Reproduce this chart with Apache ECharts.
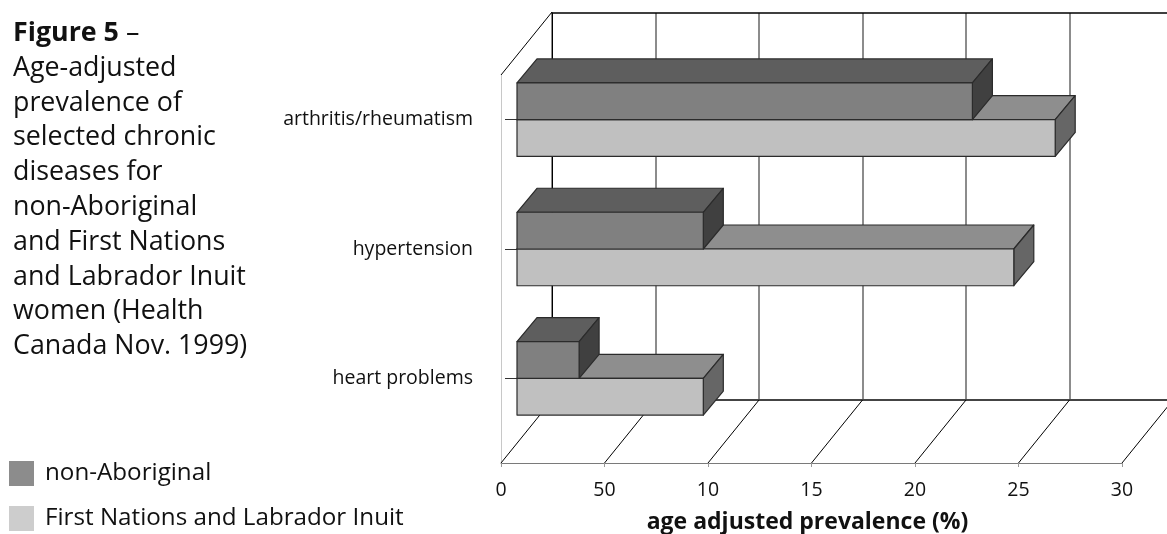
<!DOCTYPE html>
<html>
<head>
<meta charset="utf-8">
<script src="https://cdn.jsdelivr.net/npm/echarts@6/dist/echarts.min.js"></script>
<style>
html, body { margin: 0; padding: 0; background: #fff; }
#main { width: 1167px; height: 534px; }
</style>
</head>
<body>
<div id="main"></div>
<script>
// ---- data ----
const categories = ['heart problems', 'hypertension', 'arthritis/rheumatism'];
const nonAboriginal = [3, 9, 22];
const firstNations = [9, 24, 26];
const seriesNames = ['non-Aboriginal', 'First Nations and Labrador Inuit'];
const tickValues = [0, 5, 10, 15, 20, 25, 30];
const tickLabels = ['0', '50', '10', '15', '20', '25', '30']; // the source prints "50" for 5
const axisTitle = 'age adjusted prevalence (%)';
const captionLines = [
  '{b|Figure 5} –',
  'Age-adjusted',
  'prevalence of',
  'selected chronic',
  'diseases for',
  'non-Aboriginal',
  'and First Nations',
  'and Labrador Inuit',
  'women (Health',
  'Canada Nov. 1999)'
];

// ---- fake 3d look ----
const WALL_DEPTH = [51, -63];  // front plane -> back wall
const BAR_DEPTH = [20, -24];   // bar front face -> bar back face
const faces = [
  { front: '#808080', top: '#5e5e5e', side: '#404040', legend: '#8c8c8c' },
  { front: '#c0c0c0', top: '#8e8e8e', side: '#666666', legend: '#cdcdcd' }
];
const FONT = '"Open Sans", "Noto Sans", sans-serif';

function barRenderer(s) {
  return function (params, api) {
    const cat = api.value(0);
    const val = api.value(1);
    const band = api.size([0, 1])[1];
    const h = band * 0.284;
    const p0 = api.coord([0, cat]);
    const p1 = api.coord([val, cat]);
    const y0 = s === 0 ? p0[1] - h : p0[1];
    const y1 = y0 + h;
    const xl = p0[0], xr = p1[0];
    const dx = BAR_DEPTH[0], dy = BAR_DEPTH[1];
    const c = faces[s];
    const edge = { stroke: '#2b2b2b', lineWidth: 1.2, lineJoin: 'round' };
    return {
      type: 'group',
      children: [
        { type: 'polygon', shape: { points: [[xl, y0], [xr, y0], [xr + dx, y0 + dy], [xl + dx, y0 + dy]] },
          style: Object.assign({ fill: c.top }, edge) },
        { type: 'polygon', shape: { points: [[xr, y0], [xr, y1], [xr + dx, y1 + dy], [xr + dx, y0 + dy]] },
          style: Object.assign({ fill: c.side }, edge) },
        { type: 'rect', shape: { x: xl, y: y0, width: xr - xl, height: h },
          style: Object.assign({ fill: c.front }, edge) }
      ]
    };
  };
}

function frameRenderer(params, api) {
  const p = api.coord([api.value(0), api.value(1)]);
  return {
    type: 'line',
    shape: { x1: p[0], y1: p[1], x2: p[0] + WALL_DEPTH[0], y2: p[1] + WALL_DEPTH[1] },
    style: { stroke: '#000', lineWidth: 1 }
  };
}

// floor diagonals at each tick + the top edge of the left wall
const frameData = tickValues.map(v => [v, 0]).concat([[0, 1]]);

let option = {
  backgroundColor: '#fff',
  animation: false,
  textStyle: { fontFamily: FONT },
  title: {
    left: 8,
    top: 11,
    text: captionLines.join('\n'),
    textStyle: {
      fontFamily: FONT, fontSize: 26.8, lineHeight: 34.8, fontWeight: 'normal', color: '#111',
      rich: { b: { fontFamily: FONT, fontSize: 26.8, lineHeight: 34.8, fontWeight: 'bold', color: '#111' } }
    }
  },
  legend: {
    orient: 'vertical',
    left: 9,
    top: 461,
    padding: 0,
    icon: 'rect',
    itemWidth: 25,
    itemHeight: 25,
    itemGap: 20,
    selectedMode: false,
    data: seriesNames,
    textStyle: { fontFamily: FONT, fontSize: 24.2, color: '#111', padding: [0, 0, 0, 6] }
  },
  grid: [
    // plane through the bars
    { left: 517, top: 55, width: 621, height: 388, outerBoundsMode: 'none' },
    // front plane (axis labels)
    { left: 501, top: 75, width: 621, height: 388, outerBoundsMode: 'none' },
    // back wall
    { left: 552, top: 13, width: 621, height: 387, outerBoundsMode: 'none' }
  ],
  xAxis: [
    { gridIndex: 0, type: 'value', min: 0, max: 30, interval: 5, show: false },
    {
      gridIndex: 1, type: 'value', min: 0, max: 30, interval: 5,
      axisLine: { show: true, lineStyle: { color: '#7a7a7a', width: 1 } },
      axisTick: { show: true, length: 4, lineStyle: { color: '#999' } },
      splitLine: { show: false },
      axisLabel: {
        margin: 17, fontSize: 19.5, color: '#111', fontFamily: FONT,
        formatter: v => tickLabels[tickValues.indexOf(v)]
      },
      name: axisTitle,
      nameLocation: 'middle',
      nameGap: 48,
      nameTextStyle: { fontFamily: FONT, fontSize: 23, fontWeight: 'bold', color: '#111', padding: [0, 8, 0, 0] }
    },
    {
      gridIndex: 2, type: 'value', min: 0, max: 30, interval: 5,
      axisLine: { show: true, lineStyle: { color: '#444', width: 2 } },
      axisTick: { show: false }, axisLabel: { show: false },
      splitLine: { show: true, lineStyle: { color: '#8c8c8c', width: 2 } }
    },
    {
      gridIndex: 2, type: 'value', min: 0, max: 30, interval: 5, position: 'top',
      axisLine: { show: true, lineStyle: { color: '#000', width: 1.5 } },
      axisTick: { show: false }, axisLabel: { show: false }, splitLine: { show: false }
    }
  ],
  yAxis: [
    {
      gridIndex: 0, type: 'category', data: categories, offset: 17,
      axisLine: { show: false },
      axisTick: { show: true, length: 12, alignWithLabel: true, lineStyle: { color: '#333' } },
      axisLabel: { margin: 27, fontSize: 19.5, color: '#111', fontFamily: FONT }
    },
    {
      gridIndex: 1, type: 'value', min: 0, max: 1,
      axisLine: { show: true, lineStyle: { color: '#c8c8c8' } },
      axisTick: { show: false }, axisLabel: { show: false }, splitLine: { show: false }
    },
    {
      gridIndex: 2, type: 'value', min: 0, max: 1,
      axisLine: { show: true, lineStyle: { color: '#000', width: 1 } },
      axisTick: { show: false }, axisLabel: { show: false }, splitLine: { show: false }
    }
  ],
  series: [
    {
      name: 'frame', type: 'custom', xAxisIndex: 1, yAxisIndex: 1,
      renderItem: frameRenderer, data: frameData, clip: false, silent: true, z: 1
    },
    {
      name: seriesNames[1], type: 'custom', xAxisIndex: 0, yAxisIndex: 0,
      itemStyle: { color: faces[1].legend },
      encode: { x: 1, y: 0 },
      renderItem: barRenderer(1),
      data: firstNations.map((v, i) => [i, v]),
      clip: false, z: 5
    },
    {
      name: seriesNames[0], type: 'custom', xAxisIndex: 0, yAxisIndex: 0,
      itemStyle: { color: faces[0].legend },
      encode: { x: 1, y: 0 },
      renderItem: barRenderer(0),
      data: nonAboriginal.map((v, i) => [i, v]),
      clip: false, z: 6
    }
  ]
};

let chartDom = document.getElementById('main');
let myChart = echarts.init(chartDom);
option && myChart.setOption(option);
</script>
</body>
</html>
